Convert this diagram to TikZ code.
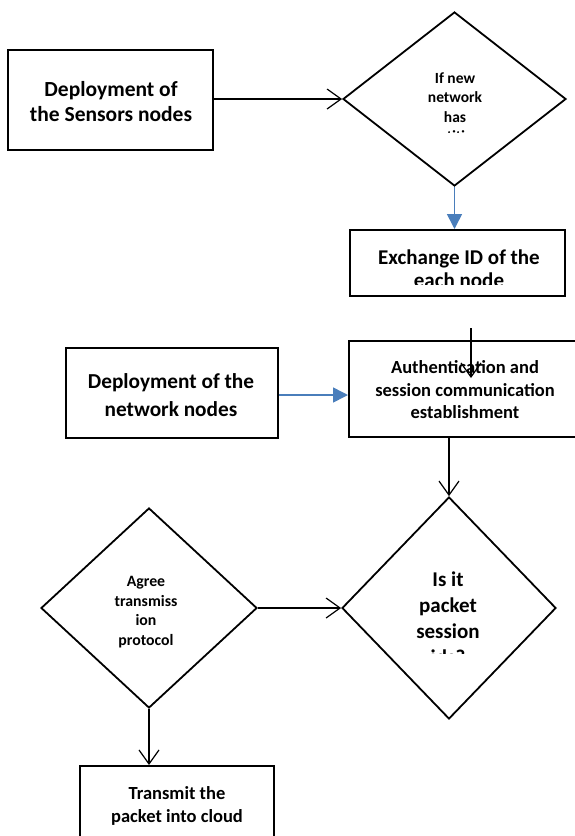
\documentclass[tikz,border=0pt]{standalone}
\usepackage{fontspec}
\setmainfont{Carlito}
\usetikzlibrary{shapes.geometric,arrows.meta}
\definecolor{wordblue}{RGB}{74,126,187}
\tikzset{
  boxshape/.style={draw, line width=2pt, rectangle, inner sep=0pt},
  diashape/.style={draw, line width=1.8pt, diamond, inner sep=0pt},
  lbl/.style={align=center, inner sep=0pt, font=\bfseries},
  openarrow/.style={line width=1.2pt, -{Straight Barb[length=14pt,width=20pt,line width=1.2pt]}},
  bluearrow/.style={draw=wordblue, line width=1.6pt, -{Triangle[length=15pt,width=15pt,fill=wordblue]}, color=wordblue}
}
\begin{document}
\begin{tikzpicture}[x=1pt,y=-1pt]
\useasboundingbox (0,0) rectangle (574,836);
% shapes
\node[boxshape, minimum width=205pt, minimum height=100pt] (b1) at (110.5,100) {};
\node[diashape, minimum width=223pt, minimum height=174pt] (d1) at (454.5,99) {};
\node[boxshape, minimum width=215pt, minimum height=66pt] (b2) at (457.5,263) {};
\node[boxshape, minimum width=227pt, minimum height=96pt] (b3) at (462.5,389) {};
\node[boxshape, minimum width=212pt, minimum height=90pt] (b4) at (172,393) {};
\node[diashape, minimum width=214pt, minimum height=222pt] (d2) at (449,608) {};
\node[diashape, minimum width=216pt, minimum height=200pt] (d3) at (149,608) {};
\node[boxshape, minimum width=194pt, minimum height=84pt] (b5) at (177,808) {};
% texts
\node[lbl, font=\bfseries\fontsize{21.5}{25}\selectfont] (t1) at (111,102) {Deployment of\\the Sensors nodes};
\begin{scope}
\clip (340,10) rectangle (570,132);
\node[lbl, font=\bfseries\fontsize{15.5}{19.5}\selectfont] (t2) at (455,107) {If new\\network\\has\\entities};
\end{scope}
\begin{scope}
\clip (352,232) rectangle (563,284);
\node[lbl, font=\bfseries\fontsize{21}{23}\selectfont] (t3) at (459,268.5) {Exchange ID of the\\each node};
\end{scope}
\node[lbl, font=\bfseries\fontsize{18.5}{22.5}\selectfont] (t4) at (465,390) {Authentication and\\session communication\\establishment};
\node[lbl, font=\bfseries\fontsize{21.3}{28}\selectfont] (t5) at (171,395) {Deployment of the\\network nodes};
\begin{scope}
\clip (340,500) rectangle (560,653);
\node[lbl, font=\bfseries\fontsize{21}{26}\selectfont] (t6) at (448,618) {Is it\\packet\\session\\ids?};
\end{scope}
\node[lbl, font=\bfseries\fontsize{15.8}{19.5}\selectfont] (t7) at (146,612) {Agree\\transmiss\\ion\\protocol};
\node[lbl, font=\bfseries\fontsize{18.5}{23}\selectfont] (t8) at (177,806) {Transmit the\\packet into cloud};
% connectors
\coordinate (c1) at (471,328);
\coordinate (c2) at (471,378);
\draw[openarrow] (b1.east |- d1.west) -- (d1.west);
\draw[bluearrow] (d1.south) -- (d1.south |- b2.north);
\draw[openarrow] (c1) -- (c2);
\draw[bluearrow] (b4.east |- 0,395) -- (b3.west |- 0,395);
\draw[openarrow] (b3.south -| d2.north) -- (d2.north);
\draw[openarrow] (d3.east) -- (d2.west);
\draw[openarrow] (d3.south) -- (d3.south |- b5.north);
\end{tikzpicture}
\end{document}
